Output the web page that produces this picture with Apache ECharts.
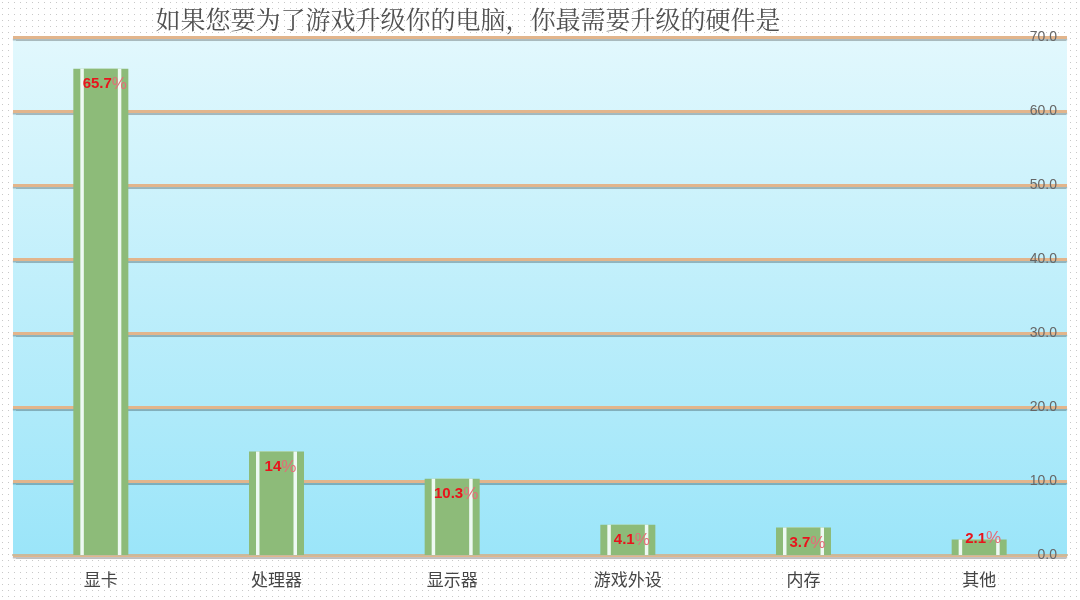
<!DOCTYPE html>
<html>
<head>
<meta charset="utf-8">
<script src="https://cdn.jsdelivr.net/npm/echarts@6/dist/echarts.min.js"></script>
<style>
html,body{margin:0;padding:0;background:#fff;}
#chart{width:1080px;height:600px;}
</style>
</head>
<body>
<div id="chart"></div>
<script>
var titleText = '如果您要为了游戏升级你的电脑，你最需要升级的硬件是';
var categories = ['显卡', '处理器', '显示器', '游戏外设', '内存', '其他'];
var values = [65.7, 14, 10.3, 4.1, 3.7, 2.1];
var yTicks = [0, 10, 20, 30, 40, 50, 60, 70];

// 点状背景
function dotPattern() {
    var c = document.createElement('canvas');
    c.width = 6; c.height = 6;
    var ctx = c.getContext('2d');
    ctx.fillStyle = '#ffffff';
    ctx.fillRect(0, 0, 6, 6);
    ctx.fillStyle = '#c8c8c8';
    ctx.fillRect(2, 2, 1, 1);
    return c;
}

// 矮柱子的标签放到底部
var labelData = values.map(function (v) {
    if (v < 3) {
        return { value: v, label: { position: 'insideBottom', distance: 8 } };
    }
    return v;
});

var myChart = echarts.init(document.getElementById('chart'));
var green = '#8dbb79';
var hiddenAxis = {
    type: 'category',
    data: categories,
    show: false
};
var option = {
    backgroundColor: { image: dotPattern(), repeat: 'repeat' },
    title: {
        text: titleText,
        left: 463,
        textAlign: 'center',
        top: 2,
        textStyle: {
            fontFamily: 'Noto Serif CJK SC, Noto Sans CJK SC, serif',
            fontSize: 25,
            fontWeight: 'normal',
            color: '#505050'
        }
    },
    grid: {
        left: 13,
        right: 13,
        top: 37,
        bottom: 45,
        show: true,
        borderWidth: 0,
        backgroundColor: new echarts.graphic.LinearGradient(0, 0, 0, 1, [
            { offset: 0, color: '#e2f8fd' },
            { offset: 1, color: '#9be5f9' }
        ])
    },
    xAxis: [
        {
            type: 'category',
            data: categories,
            axisTick: { show: false },
            axisLine: { lineStyle: { color: '#c9b99c', width: 2 } },
            axisLabel: {
                margin: 16,
                fontSize: 17,
                color: '#454545',
                fontFamily: 'Noto Sans CJK SC'
            }
        },
        hiddenAxis,
        hiddenAxis
    ],
    yAxis: {
        type: 'value',
        position: 'right',
        min: yTicks[0],
        max: yTicks[yTicks.length - 1],
        interval: 10,
        axisLine: { show: false },
        axisTick: { show: false },
        axisLabel: {
            inside: true,
            margin: 10,
            fontSize: 14,
            color: '#666',
            fontFamily: 'Liberation Sans, Arial',
            formatter: function (v) { return v.toFixed(1); }
        },
        splitLine: {
            lineStyle: {
                color: '#e2b58c',
                width: 3,
                shadowColor: 'rgba(0,0,0,0.25)',
                shadowOffsetY: 1.5,
                shadowBlur: 1
            }
        }
    },
    series: [
        {
            type: 'bar',
            xAxisIndex: 0,
            data: values,
            barWidth: 55,
            itemStyle: { color: green },
            silent: true
        },
        {
            type: 'bar',
            xAxisIndex: 1,
            data: values,
            barWidth: 41,
            itemStyle: { color: '#eef9f3' },
            silent: true
        },
        {
            type: 'bar',
            xAxisIndex: 2,
            data: labelData,
            barWidth: 34,
            itemStyle: { color: green },
            label: {
                show: true,
                position: 'insideTop',
                distance: 7,
                offset: [4, 0],
                formatter: function (p) { return '{v|' + p.value + '}{p|%}'; },
                rich: {
                    v: {
                        color: '#e8141c',
                        fontWeight: 'bold',
                        fontSize: 15,
                        fontFamily: 'Liberation Sans, Arial'
                    },
                    p: {
                        color: '#e46c78',
                        fontSize: 17,
                        fontFamily: 'Liberation Sans, Arial'
                    }
                }
            }
        }
    ]
};
if (option && typeof option === "object") {
    myChart.setOption(option, true);
}
</script>
</body>
</html>
